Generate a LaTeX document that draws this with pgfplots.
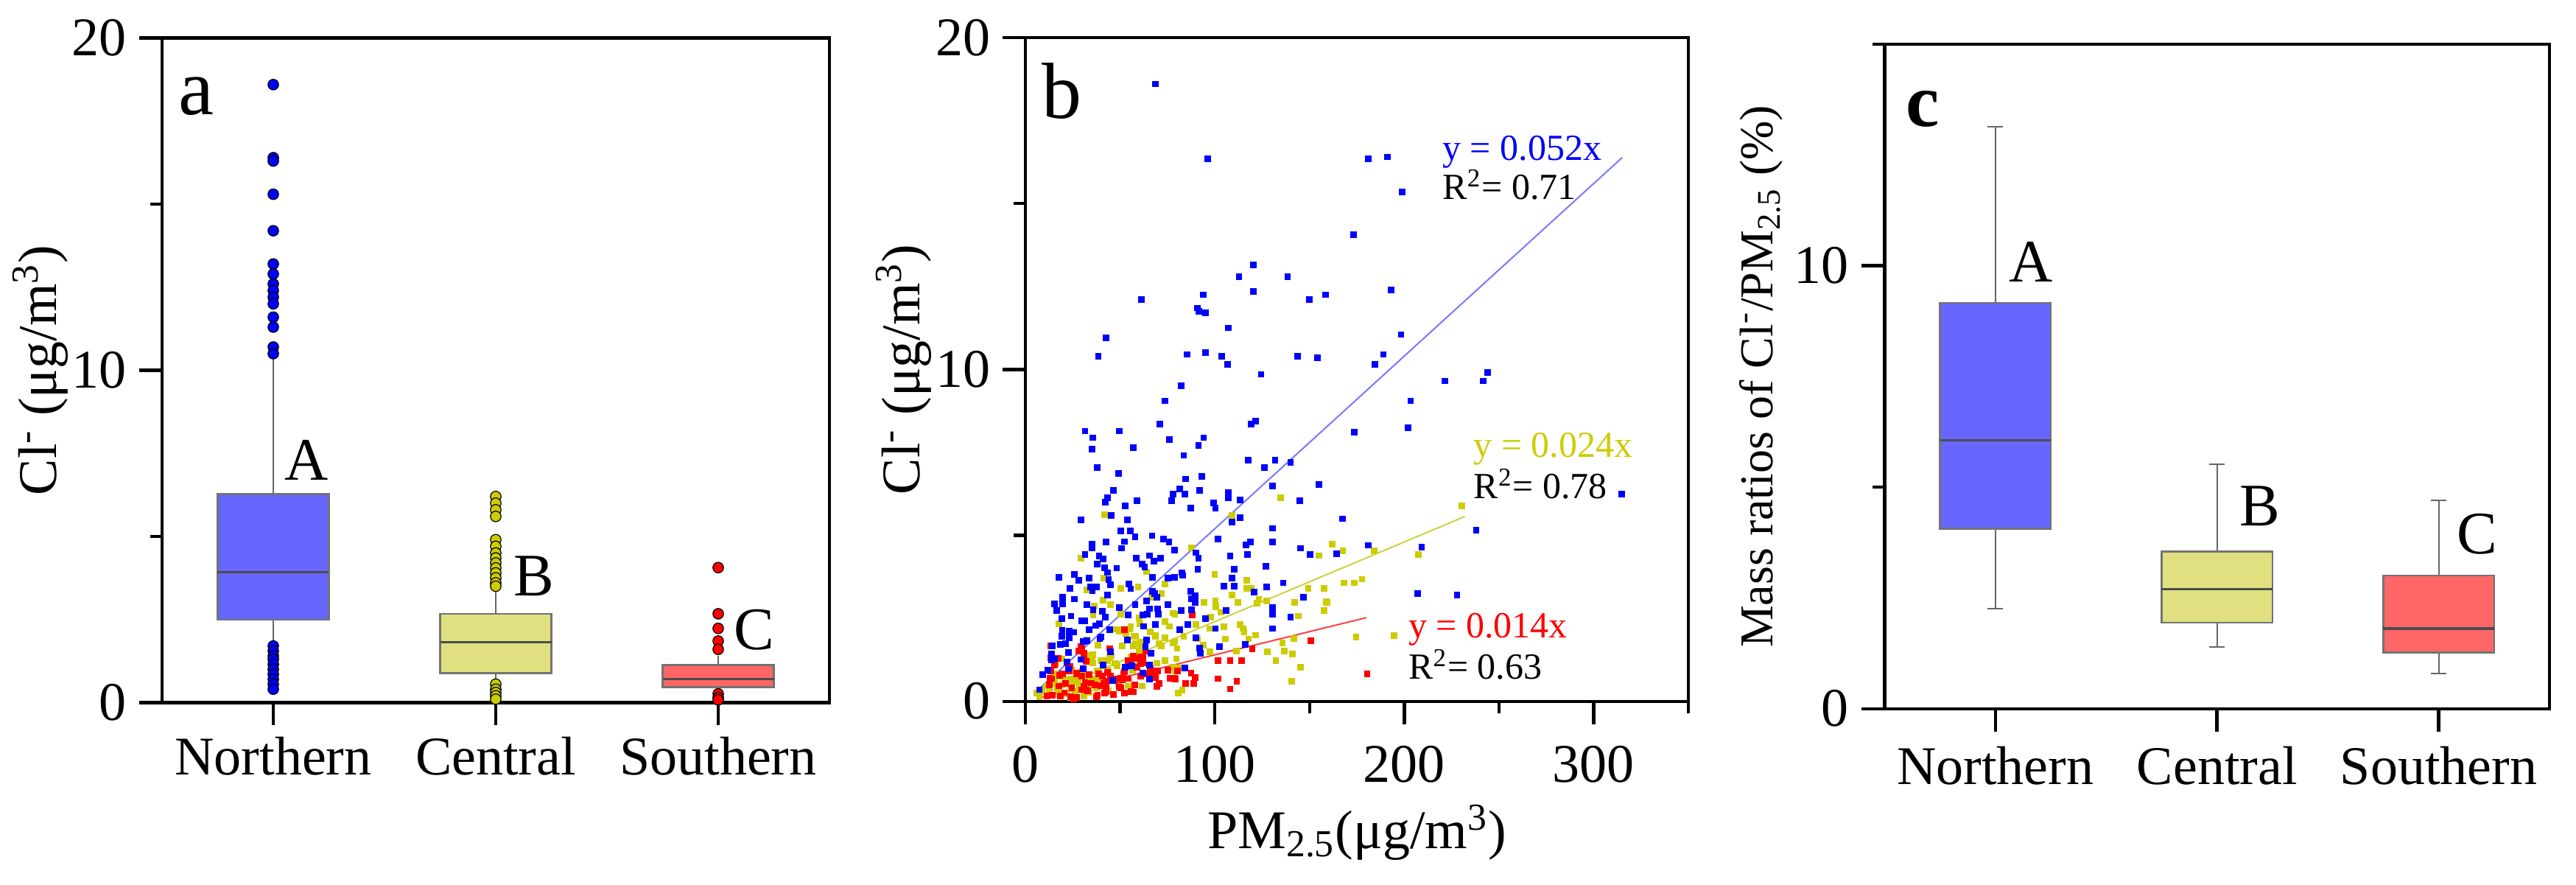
\documentclass[border=0pt]{standalone}
\usepackage{fontspec}
\setmainfont{Liberation Serif}
\usepackage{pgfplots}
\pgfplotsset{compat=1.18}
\usepgfplotslibrary{statistics}

\definecolor{bfill}{HTML}{6666FF}
\definecolor{yfill}{HTML}{E0E080}
\definecolor{rfill}{HTML}{FF6666}
\definecolor{ptblue}{HTML}{0000FF}
\definecolor{ptyel}{HTML}{CCCC00}
\definecolor{ptred}{HTML}{FF0000}
\definecolor{lnblue}{HTML}{7878FF}
\definecolor{lnyel}{HTML}{D0D040}
\definecolor{lnred}{HTML}{FF4040}

\newcommand{\tlfont}{\fontsize{18.5}{20}\selectfont}
\newcommand{\annfont}{\fontsize{12.5}{14}\selectfont}
\newcommand{\bigfont}{\fontsize{27}{30}\selectfont}
\newcommand{\letfont}{\fontsize{20.5}{22}\selectfont}

\pgfplotsset{
  myaxis/.style={
    scale only axis,
    axis line style={line width=1.1pt},
    every tick/.style={black, line width=1.1pt},
    major tick length=7.75pt,
    minor tick length=4pt,
    tick align=outside,
    tick pos=left,
    /pgf/number format/assume math mode=true,
    ticklabel style={font=\tlfont},
    label style={font=\tlfont},
    yticklabel style={anchor=east, inner sep=0pt},
    xticklabel style={anchor=base, inner sep=0pt},
  },
  mybox/.style={
    boxplot/draw direction=y,
    boxplot/every box/.style={draw=black!55, line width=0.6pt},
    boxplot/every whisker/.style={black!60, line width=0.5pt},
    boxplot/every median/.style={black!70, line width=0.8pt},
  },
  scat/.style={only marks, mark=square*, mark size=0.9pt, color=#1, mark options={draw=none, fill=#1}},
  outl/.style={mark=*, mark size=1.8pt, mark options={fill=#1, draw=black, line width=0.3pt}},
}

\begin{document}
\begin{tikzpicture}
\useasboundingbox (0,0) rectangle (874.25pt,300pt);

% ---------------- panel a ----------------
\begin{axis}[myaxis, mybox,
  at={(55pt,61.675pt)}, anchor=south west,
  width=226.5pt, height=225.4pt,
  xmin=0.5, xmax=3.5, ymin=0, ymax=20,
  xtick={1,2,3}, xticklabels={Northern,Central,Southern},
  ytick={0,10,20}, minor ytick={5,15},
  xticklabel style={yshift=-16.9pt},
  yticklabel style={xshift=-4.05pt},
  ylabel={Cl\textsuperscript{-} (μg/m\textsuperscript{3})},
  ylabel style={at={(axis description cs:-0.182,0.5)}, anchor=center},
  clip=false]
\addplot[fill=bfill, draw=black!55, outl=ptblue,
  boxplot prepared={median=3.93, upper quartile=6.27, lower quartile=2.49,
    upper whisker=10.4, lower whisker=1.75, draw position=1,
    box extend=0.5, whisker extend=0}]
  table[row sep=\\, y index=0] {data\\ 18.6\\ 16.4\\ 16.3\\ 15.3\\ 14.2\\ 13.2\\ 12.9\\ 12.6\\ 12.4\\ 12.2\\ 12.0\\ 11.6\\ 11.3\\ 10.7\\ 10.5\\ 1.7\\ 1.55\\ 1.4\\ 1.3\\ 1.15\\ 1.0\\ 0.85\\ 0.7\\ 0.55\\ 0.4\\};
\addplot[fill=yfill, draw=black!55, outl=ptyel,
  boxplot prepared={median=1.81, upper quartile=2.67, lower quartile=0.88,
    upper whisker=3.4, lower whisker=0.6, draw position=2,
    box extend=0.5, whisker extend=0}]
  table[row sep=\\, y index=0] {data\\ 6.2\\ 6.0\\ 5.8\\ 5.6\\ 4.9\\ 4.7\\ 4.5\\ 4.35\\ 4.2\\ 4.05\\ 3.9\\ 3.75\\ 3.6\\ 3.5\\ 0.55\\ 0.4\\ 0.3\\ 0.2\\ 0.1\\};
\addplot[fill=rfill, draw=black!55, outl=ptred,
  boxplot prepared={median=0.7, upper quartile=1.13, lower quartile=0.46,
    upper whisker=1.4, lower whisker=0.3, draw position=3,
    box extend=0.5, whisker extend=0}]
  table[row sep=\\, y index=0] {data\\ 4.06\\ 2.67\\ 2.23\\ 1.85\\ 1.6\\ 0.26\\ 0.15\\ 0.08\\};
\node[anchor=base west, inner sep=0pt, font=\bigfont] at (axis cs:0.571,17.7) {a};
\node[anchor=base west, inner sep=0pt, font=\letfont] at (axis cs:1.05,6.69) {A};
\node[anchor=base west, inner sep=0pt, font=\letfont] at (axis cs:2.08,3.22) {B};
\node[anchor=base west, inner sep=0pt, font=\letfont] at (axis cs:3.07,1.59) {C};
\end{axis}

% ---------------- panel b ----------------
\begin{axis}[myaxis,
  at={(348pt,62.075pt)}, anchor=south west,
  width=225pt, height=225.2pt,
  xmin=0, xmax=350, ymin=0, ymax=20,
  xtick={0,100,200,300}, minor xtick={50,150,250,350},
  ytick={0,10,20}, minor ytick={5,15},
  xticklabel style={yshift=-19.75pt},
  yticklabel style={xshift=-3.95pt},
  ylabel={Cl\textsuperscript{-} (μg/m\textsuperscript{3})},
  ylabel style={at={(axis description cs:-0.184,0.5)}, anchor=center},
  xlabel={PM\textsubscript{2.5}(μg/m\textsuperscript{3})},
  xlabel style={at={(axis description cs:0.5,-0.198)}, anchor=center}]
% yellow points
\addplot[scat=ptyel] coordinates {
(41.9,5.63) (109,5.60) (134.6,6.13) (162.1,4.74) (29.2,4.32) (87.8,4.63) (155,4.39) (64.1,3.90) (99.9,3.82)
(41.3,3.72) (73.6,3.53) (117.0,3.65) (32.4,3.36) (50.4,3.40) (59.5,3.45) (116.8,3.40) (119.1,3.40) (149.3,3.40)
(157.8,3.40) (71.9,3.24) (109.0,3.21) (41.0,3.05) (66.7,3.14) (123.3,3.07) (127.2,3.03) (122.3,2.95) (94.4,2.98)
(100.3,3.03) (112.2,2.98) (142.2,2.98) (159.1,2.98) (36.5,2.86) (45.0,2.92) (100.5,2.84) (157.8,2.73) (17.6,2.34)
(35.8,2.60) (50.4,2.62) (60.2,2.51) (78.0,2.66) (97.7,2.54) (103.1,2.68) (144.1,2.57) (73.6,2.40) (76.0,2.26)
(90.1,2.32) (97.3,2.19) (104.8,2.25) (113.5,2.32) (114.8,2.19) (48.0,2.17) (49.7,2.11) (54.9,2.17) (60.5,2.34)
(66.0,2.10) (57.5,1.95) (68.6,1.99) (73.6,1.91) (78.1,1.76) (80.1,1.59) (83.6,1.95) (91.0,1.88) (105.7,1.88)
(115.5,2.10) (117.8,1.88) (121.4,1.99) (141.8,1.89) (135.7,1.76) (32.4,1.86) (38.4,1.69) (51.0,1.67) (57.9,1.73)
(60.8,1.61) (61.8,1.49) (70.6,1.73) (97.3,1.50) (94.0,1.69) (111.3,1.52) (127.6,1.50) (136.7,1.52) (140.9,1.43)
(34.1,1.39) (44.5,1.32) (43.5,1.23) (55.6,1.35) (59.2,1.28) (69.3,1.15) (79.7,1.28) (19.1,1.28) (16.3,1.13)
(35.4,1.21) (39.7,1.22) (48.4,1.07) (78.1,1.02) (79.0,0.91) (132.2,1.22) (145.2,1.02) (140.6,0.60) (24.4,0.94)
(29.6,0.89) (38.0,0.91) (43.2,0.94) (56.6,0.94) (15.2,0.83) (18.5,0.76) (21.1,0.65) (24.4,0.67) (28.0,0.57)
(33.2,0.61) (36.7,0.68) (41.3,0.57) (49.1,0.54) (54.3,0.46) (61.5,0.46) (19.1,0.50) (11.1,0.46) (15.2,0.54)
(23.7,0.39) (29.6,0.42) (33.5,0.39) (26.3,0.31) (80.6,0.25) (6.1,0.25) (7.4,0.13) (12.6,0.30) (17.2,0.35)
(21.7,0.22) (30.9,0.16) (43.9,0.31) (52.3,0.24)
(230.4,5.88) (167.6,4.54) (184,4.54) (207.6,4.43) (168.3,3.57) (173.5,3.57) (177.7,3.68) (158.7,3.0)
(174.6,1.94) (194.5,1.98)
(20.6,0.55) (25.1,0.59) (16.7,0.41) (12.8,0.26) (8.9,0.33) (28.4,0.41) (35.5,1.41) (35.5,1.15) (40.0,0.70)
(43.9,0.92) (47.2,1.15) (50.4,2.15) (53.0,2.04) (55.6,2.26) (58.2,1.96) (60.8,1.78) (56.9,1.67) (60.1,1.52)
(62.1,1.30) (68.6,1.96) (71.8,1.67) (78.9,1.81) (78.9,2.63) (40.0,1.22) (45.2,1.37) (27.1,0.63) (32.3,0.78)
(15.4,0.63) (37.4,0.41) (33.6,0.26) (58.8,1.07) (73.8,1.22) (81.5,1.0) (82.8,0.33) (23.9,0.11) (18.0,0.19)
};
% red points
\addplot[scat=ptred] coordinates {
(88.2,2.60) (150.7,1.82) (119.8,1.58) (101.8,1.22) (108.1,1.22) (114.2,1.22) (52.3,2.16) (13.3,1.67) (13.3,1.32)
(29.3,1.65) (28.0,1.52) (30.9,1.35) (15.2,1.09) (23.7,1.06) (57.6,1.28) (55.6,1.13) (58.9,1.02) (62.1,1.32)
(69.7,0.91) (75.1,0.94) (87.5,0.85) (89.5,0.72) (79.0,0.67) (84.6,0.54) (88.8,0.54) (101.6,0.68) (111.6,0.61)
(108.1,0.37) (69.5,0.45) (68.6,0.72) (19.5,0.83) (27.0,0.83) (33.5,0.80) (38.7,0.83) (43.2,0.87) (44.9,0.76)
(48.4,0.68) (51.7,0.83) (54.3,0.68) (13.9,0.68) (12.6,0.50) (17.8,0.46) (21.1,0.54) (31.5,0.57) (36.7,0.50)
(40.0,0.46) (42.6,0.42) (49.7,0.42) (57.6,0.50) (29.6,0.35) (32.8,0.31) (41.9,0.24) (46.5,0.20) (52.3,0.25)
(56.9,0.28) (11.3,0.16) (23.7,0.13) (25.6,0.07) (37.4,0.13) (18.5,0.16) (42.6,0.61) (40.6,0.76) (60.8,1.13)
(29.6,0.76) (32.2,1.21) (51.0,0.65) (63.4,0.83) (60.8,0.76) (76.4,0.70) (70.6,0.53) (180.4,0.82)
(14.1,1.67) (29.7,1.59) (31.0,1.44) (17.4,1.30) (21.9,1.15) (13.5,0.92) (12.8,0.70) (18.0,0.78) (23.1,0.92)
(27.1,0.85) (24.5,0.41) (31.0,0.44) (34.9,0.55) (38.8,0.48) (41.4,0.55) (42.7,0.30) (38.1,0.19) (32.3,0.33)
(47.2,0.63) (50.4,0.70) (52.4,0.89) (55.6,1.07) (54.3,1.22) (58.2,1.30) (63.4,1.52) (62.1,1.15) (68.6,0.92)
(66.0,0.78) (78.9,0.70) (80.2,0.92) (50.4,0.41) (55.6,0.30) (27.1,0.11) (14.1,0.19) (20.6,0.26) (44.6,1.59)
(57.0,1.37) (60.8,1.33) (66.0,0.99)
};
% blue points
\addplot[scat=ptblue] coordinates {
(68.7,18.6) (96.1,16.35) (180.9,16.35) (191.1,16.4) (198.8,15.35) (173.2,14.05) (120.3,13.15) (112.8,12.8) (138.4,12.8)
(120.3,12.35) (93.8,12.25) (61.1,12.1) (150.0,12.1) (158.4,12.25) (193.2,12.4) (90.8,11.85) (91.5,11.75) (95.0,11.7)
(107.0,11.25) (198.3,11.05) (42.5,10.95) (38.5,10.4) (85.4,10.45) (95.0,10.5) (103.6,10.4) (106.6,10.15) (143.7,10.4)
(154.2,10.35) (189.0,10.45) (184.4,10.15) (124.4,9.85) (221.5,9.65) (241.7,9.65) (244.0,9.9) (82.2,9.5) (73.8,9.05)
(203.4,9.05) (121.5,8.45) (71.0,8.35) (119.1,8.35)
(173.5,8.1) (202,8.25) (314.9,6.25) (167.5,5.5) (238,5.15) (180.9,4.7) (164.4,4.45) (209.2,4.65) (207.2,3.25) (227.9,3.2)
(31.5,8.14) (49.7,8.14) (35.7,7.94) (35.2,7.59) (56.9,7.64) (76.0,7.89) (94.1,7.94) (91.4,7.71) (83.6,7.41)
(38.0,7.05) (49.3,6.86) (117.7,7.27) (131.8,7.27) (126.2,7.05) (140.0,7.19) (84.5,6.70) (93.0,6.77) (155.0,6.53)
(130.5,6.49) (46.5,6.36) (43.2,6.14) (42.2,6.0) (59.0,6.04) (78.0,6.25) (81.4,6.40) (84.2,6.25) (92.1,6.36)
(77.1,6.04) (87.2,5.83) (99.5,5.97) (100.3,5.82) (107.2,6.28) (107.2,6.12) (113.2,6.07) (145.0,6.04) (52.6,5.88)
(45.4,5.6) (29.2,5.47) (53.8,5.46) (109.0,5.4) (113.4,5.54) (130.5,5.21) (50.4,5.13) (55.3,5.13) (57.9,4.96)
(66.9,4.99) (72.8,4.89) (75.8,4.80) (42.6,4.80) (52.3,4.81) (35.2,4.74) (35.2,4.61) (50.8,4.61) (78.6,4.55)
(101.6,4.89) (116.5,4.72) (118.7,4.80) (130.5,4.80) (145.2,4.61) (150.4,4.43) (31.5,4.43) (38.9,4.37) (41.0,4.29)
(58.6,4.32) (65.4,4.39) (67.8,4.23) (71.2,4.32) (90.1,4.48) (91.4,4.32) (108.1,4.37) (117.2,4.43) (38.0,4.13)
(61.5,4.13) (63.0,4.05) (41.7,4.02) (48.2,4.01) (43.5,3.88) (91.0,3.98) (110.3,3.98) (127.1,4.07) (82.5,3.88)
(82.9,3.79) (67.0,3.73) (75.1,3.72) (78.8,3.73) (109.1,3.71) (17.8,3.73) (26.0,3.82) (28.3,3.64) (33.5,3.71)
(43.9,3.66) (45.0,3.51) (54.6,3.53) (55.6,3.39) (34.5,3.44) (37.4,3.44) (35.4,3.34) (23.4,3.40) (104.8,3.46)
(110.3,3.46) (127.5,3.45) (136.1,3.57) (120.7,3.29) (67.0,3.31) (68.2,3.24) (69.3,3.14) (87.2,3.31) (89.5,3.18)
(89.5,2.98) (87.8,3.09) (146.7,3.14) (43.2,3.21) (19.5,3.13) (19.5,2.94) (15.2,2.93) (26.0,3.08) (32.4,2.92)
(57.9,2.92) (64.1,3.03) (75.1,2.92) (16.5,2.73) (35.8,2.75) (40.6,2.72) (49.7,2.83) (69.9,2.79) (65.5,2.79)
(82.3,2.73) (87.8,2.75) (106.0,2.73) (130.5,2.83) (130.5,2.62) (140.0,2.54) (19.1,2.49) (24.1,2.57) (29.6,2.42)
(31.5,2.42) (42.3,2.54) (54.3,2.6) (62.1,2.6) (64.4,2.62) (95.2,2.49) (70.3,2.62) (19.4,2.13) (23.0,2.12)
(25.6,2.08) (33.7,2.16) (37.0,2.28) (39.1,2.34) (44.5,2.16) (68.6,2.32) (62.4,2.26) (81.4,2.16) (85.8,2.32)
(100.3,2.19) (130.5,2.19) (19.1,1.95) (23.0,1.91) (21.1,1.73) (18.5,1.71) (30.5,1.80) (32.4,1.82) (39.3,1.88)
(39.7,1.93) (54.0,1.84) (64.1,1.84) (63.4,1.65) (90.0,1.91) (92.1,1.61) (92.3,1.44) (102.5,1.65) (116.1,1.71)
(14.2,1.67) (13.7,1.43) (22.8,1.47) (45.0,1.50) (66.4,1.44) (13.7,1.24) (15.2,1.28) (29.3,1.26) (22.1,1.19)
(41.0,1.09) (56.3,1.07) (52.7,1.02) (65.4,1.09) (84.2,1.0) (30.6,0.98) (22.8,0.97) (12.0,0.94) (62.1,0.86)
(9.0,0.80) (46.2,0.63) (65.4,0.67) (7.4,0.35)
};
% regression lines
\addplot[lnblue, line width=0.5pt] coordinates {(8,0.416) (315,16.38)};
\addplot[lnyel, line width=0.5pt] coordinates {(8,0.192) (232,5.568)};
\addplot[lnred, line width=0.5pt] coordinates {(8,0.112) (180,2.52)};
\node[anchor=base west, inner sep=0pt, font=\annfont, text=ptblue] at (axis cs:220,16.3) {y = 0.052x};
\node[anchor=base west, inner sep=0pt, font=\annfont] at (axis cs:220,15.12) {R\textsuperscript{2}= 0.71};
\node[anchor=base west, inner sep=0pt, font=\annfont, text=ptyel] at (axis cs:236.4,7.36) {y = 0.024x};
\node[anchor=base west, inner sep=0pt, font=\annfont] at (axis cs:236.4,6.11) {R\textsuperscript{2}= 0.78};
\node[anchor=base west, inner sep=0pt, font=\annfont, text=ptred] at (axis cs:202,1.92) {y = 0.014x};
\node[anchor=base west, inner sep=0pt, font=\annfont] at (axis cs:202,0.67) {R\textsuperscript{2}= 0.63};
\node[anchor=base west, inner sep=0pt, font=\bigfont] at (axis cs:8.5,17.56) {b};
\end{axis}

% ---------------- panel c ----------------
\begin{axis}[myaxis, mybox,
  at={(639.575pt,59.575pt)}, anchor=south west,
  width=225.675pt, height=225.425pt,
  xmin=0.5, xmax=3.5, ymin=0, ymax=15,
  xtick={1,2,3}, xticklabels={Northern,Central,Southern},
  ytick={0,10}, minor ytick={5,15},
  xticklabel style={yshift=-18pt},
  yticklabel style={xshift=-4.35pt},
  ylabel={Mass ratios of Cl\textsuperscript{-}/PM\textsubscript{2.5} (\%)},
  ylabel style={at={(axis description cs:-0.186,0.5)}, anchor=center, font=\fontsize{16}{18}\selectfont},
  clip=false]
\addplot[fill=bfill, draw=black!55,
  boxplot prepared={median=6.06, upper quartile=9.16, lower quartile=4.06,
    upper whisker=13.14, lower whisker=2.26, draw position=1,
    box extend=0.5, whisker extend=0.07}] coordinates {};
\addplot[fill=yfill, draw=black!55,
  boxplot prepared={median=2.70, upper quartile=3.55, lower quartile=1.94,
    upper whisker=5.51, lower whisker=1.39, draw position=2,
    box extend=0.5, whisker extend=0.07}] coordinates {};
\addplot[fill=rfill, draw=black!55,
  boxplot prepared={median=1.81, upper quartile=3.01, lower quartile=1.27,
    upper whisker=4.70, lower whisker=0.79, draw position=3,
    box extend=0.5, whisker extend=0.07}] coordinates {};
\node[anchor=base west, inner sep=0pt, font=\fontsize{25.5}{28}\selectfont\bfseries] at (axis cs:0.595,13.14) {c};
\node[anchor=base west, inner sep=0pt, font=\letfont] at (axis cs:1.06,9.63) {A};
\node[anchor=base west, inner sep=0pt, font=\letfont] at (axis cs:2.10,4.13) {B};
\node[anchor=base west, inner sep=0pt, font=\letfont] at (axis cs:3.08,3.49) {C};
\end{axis}
\end{tikzpicture}
\end{document}
